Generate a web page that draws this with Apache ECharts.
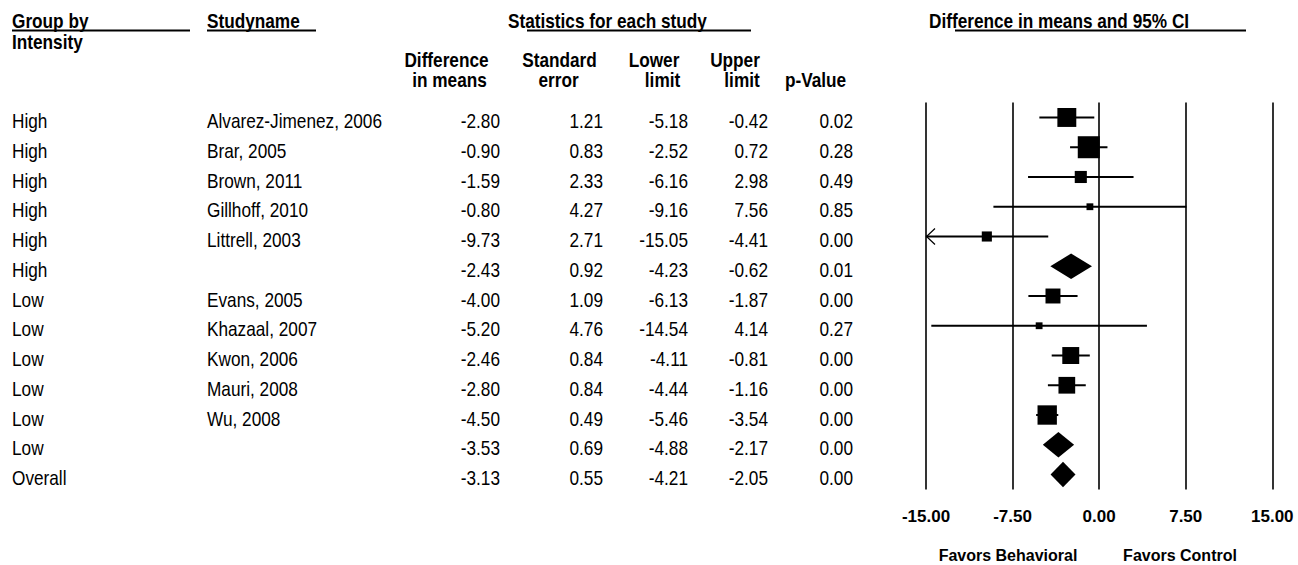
<!DOCTYPE html>
<html>
<head>
<meta charset="utf-8">
<script src="https://cdn.jsdelivr.net/npm/echarts@6/dist/echarts.min.js"></script>
<style>html,body{margin:0;padding:0;background:#fff}#c{width:1298px;height:565px}</style>
</head>
<body>
<div id="c"></div>
<script>
// ---------- data ----------
const groups = ['High','High','High','High','High','High','Low','Low','Low','Low','Low','Low','Overall'];
const studies = ['Alvarez-Jimenez, 2006','Brar, 2005','Brown, 2011','Gillhoff, 2010','Littrell, 2003','','Evans, 2005','Khazaal, 2007','Kwon, 2006','Mauri, 2008','Wu, 2008','',''];
const diffMeans = [-2.80,-0.90,-1.59,-0.80,-9.73,-2.43,-4.00,-5.20,-2.46,-2.80,-4.50,-3.53,-3.13];
const stdErrors = [1.21,0.83,2.33,4.27,2.71,0.92,1.09,4.76,0.84,0.84,0.49,0.69,0.55];
const lowerLimits = [-5.18,-2.52,-6.16,-9.16,-15.05,-4.23,-6.13,-14.54,-4.11,-4.44,-5.46,-4.88,-4.21];
const upperLimits = [-0.42,0.72,2.98,7.56,-4.41,-0.62,-1.87,4.14,-0.81,-1.16,-3.54,-2.17,-2.05];
const pValues = [0.02,0.28,0.49,0.85,0.00,0.01,0.00,0.27,0.00,0.00,0.00,0.00,0.00];
const isSummary = [false,false,false,false,false,true,false,false,false,false,false,true,true];
const relWeights = [0.86,1.00,0.55,0.31,0.46,0,0.68,0.31,0.77,0.76,0.88,0,0];
const xTicks = [-15,-7.5,0,7.5,15];

// ---------- font detection ----------
function textWidth(font){
  const c=document.createElement('canvas').getContext('2d');
  c.font=font; return c.measureText('Alvarez-Jimenez, 2006 mmWW').width;
}
const NARROW = textWidth('40px "Liberation Sans Narrow", monospace') < 0.9*textWidth('40px "Liberation Sans", monospace');
const FAM = NARROW ? 'Liberation Sans Narrow' : 'Liberation Sans';
const SX = NARROW ? 1 : 0.82;
const FS = 21;

// ---------- layout ----------
const GRID_TOP = 102.6, GRID_BOTTOM = 75.6;
const COLS = {group:12, study:207, diff:500, se:603, lower:688, upper:768, p:853};
const TEXT_DY = 3.5;
const rowIdx = groups.map((_, i) => i);

function txt(x, y, s, opt){
  opt = opt || {};
  return {type:'text', x:x, y:y, scaleX: SX, silent:true,
    style:{text:s, fill:'#000', fontFamily:FAM, fontSize:opt.size||FS, fontWeight:opt.bold?'bold':'normal',
      align:opt.align||'left', verticalAlign:'middle'}};
}
function hline(x1,x2,y){
  return {type:'line', silent:true, shape:{x1:x1,y1:y,x2:x2,y2:y}, style:{stroke:'#000', lineWidth:1.8}};
}

const headerGraphics = [
  txt(12, 20.5, 'Group by', {bold:true}),
  txt(12, 42, 'Intensity', {bold:true}),
  txt(207, 20.5, 'Studyname', {bold:true}),
  txt(508, 20.5, 'Statistics for each study', {bold:true}),
  txt(929, 20.5, 'Difference in means and 95% CI', {bold:true}),
  hline(12, 190, 30.5), hline(207, 316, 30.5), hline(527, 751, 30.5), hline(955, 1246, 30.5),
  txt(446.5, 60, 'Difference', {bold:true, align:'center'}),
  txt(449.5, 79.5, 'in means', {bold:true, align:'center'}),
  txt(559.5, 60, 'Standard', {bold:true, align:'center'}),
  txt(558.5, 79.5, 'error', {bold:true, align:'center'}),
  txt(654, 60, 'Lower', {bold:true, align:'center'}),
  txt(662.5, 79.5, 'limit', {bold:true, align:'center'}),
  txt(735, 60, 'Upper', {bold:true, align:'center'}),
  txt(742, 79.5, 'limit', {bold:true, align:'center'}),
  txt(815.5, 79.5, 'p-Value', {bold:true, align:'center'}),
  {type:'text', x:1008, y:555, silent:true, style:{text:'Favors Behavioral', fill:'#000', fontFamily:'Liberation Sans', fontSize:16, fontWeight:'bold', align:'center', verticalAlign:'middle'}},
  {type:'text', x:1180, y:555, silent:true, style:{text:'Favors Control', fill:'#000', fontFamily:'Liberation Sans', fontSize:16, fontWeight:'bold', align:'center', verticalAlign:'middle'}}
];

const chart = echarts.init(document.getElementById('c'), null, {renderer:'svg', width:1298, height:565});

chart.setOption({
  animation:false,
  backgroundColor:'#fff',
  grid:[
    {left:0, right:0, top:GRID_TOP, bottom:GRID_BOTTOM},
    {left:926, right:25.7, top:GRID_TOP, bottom:GRID_BOTTOM}
  ],
  xAxis:[
    {gridIndex:0, type:'value', min:0, max:1298, show:false},
    {gridIndex:1, type:'value', min:xTicks[0], max:xTicks[xTicks.length-1], interval:7.5,
      axisLine:{show:false}, axisTick:{show:false},
      splitLine:{show:true, lineStyle:{color:'#000', width:1.6}},
      axisLabel:{color:'#000', fontFamily:FAM, fontSize:NARROW?FS:17, fontWeight:'bold', margin:17, lineHeight:21,
        formatter:v => v.toFixed(2)}}
  ],
  yAxis:[
    {gridIndex:0, type:'category', data:rowIdx, inverse:true, show:false},
    {gridIndex:1, type:'category', data:rowIdx, inverse:true, show:false}
  ],
  graphic:headerGraphics,
  series:[
    {
      type:'custom', xAxisIndex:0, yAxisIndex:0, silent:true,
      data: rowIdx.map(i => [i]),
      renderItem:(params, api) => {
        const i = api.value(0);
        const y = api.coord([0, i])[1] + TEXT_DY;
        const cx = c => api.coord([c, i])[0];
        return {type:'group', children:[
          txt(cx(COLS.group), y, groups[i]),
          txt(cx(COLS.study), y, studies[i]),
          txt(cx(COLS.diff), y, diffMeans[i].toFixed(2), {align:'right'}),
          txt(cx(COLS.se), y, stdErrors[i].toFixed(2), {align:'right'}),
          txt(cx(COLS.lower), y, lowerLimits[i].toFixed(2), {align:'right'}),
          txt(cx(COLS.upper), y, upperLimits[i].toFixed(2), {align:'right'}),
          txt(cx(COLS.p), y, pValues[i].toFixed(2), {align:'right'})
        ]};
      }
    },
    {
      type:'custom', xAxisIndex:1, yAxisIndex:1, silent:true, clip:false,
      data: rowIdx.map(i => [diffMeans[i], i, lowerLimits[i], upperLimits[i]]),
      renderItem:(params, api) => {
        const est = api.value(0), i = api.value(1), lo = api.value(2), hi = api.value(3);
        const minX = xTicks[0], maxX = xTicks[xTicks.length-1];
        const p = api.coord([est, i]);
        const pl = api.coord([Math.max(lo, minX), i]);
        const ph = api.coord([Math.min(hi, maxX), i]);
        const y = p[1];
        if (isSummary[i]) {
          const h = 12.7;
          return {type:'polygon', shape:{points:[[pl[0],y],[p[0],y-h],[ph[0],y],[p[0],y+h]]}, style:{fill:'#000'}};
        }
        const s = 22 * relWeights[i];
        const ch = [
          {type:'line', shape:{x1:pl[0], y1:y, x2:ph[0], y2:y}, style:{stroke:'#000', lineWidth:2}},
          {type:'rect', shape:{x:p[0]-s/2, y:y-s/2, width:s, height:s}, style:{fill:'#000'}}
        ];
        if (lo < minX) {
          ch.push({type:'polyline', shape:{points:[[pl[0]+9,y-8],[pl[0]+0.5,y],[pl[0]+9,y+8]]}, style:{stroke:'#000', lineWidth:1.2, fill:null}});
        }
        if (hi > maxX) {
          ch.push({type:'polyline', shape:{points:[[ph[0]-9,y-8],[ph[0]-0.5,y],[ph[0]-9,y+8]]}, style:{stroke:'#000', lineWidth:1.2, fill:null}});
        }
        return {type:'group', children:ch};
      }
    }
  ]
});
</script>
</body>
</html>
